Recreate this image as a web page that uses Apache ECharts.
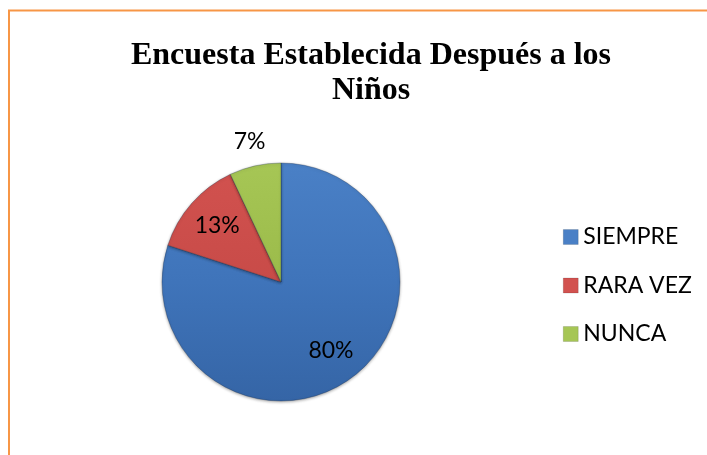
<!DOCTYPE html>
<html>
<head>
<meta charset="utf-8">
<script src="https://cdn.jsdelivr.net/npm/echarts@6/dist/echarts.min.js"></script>
<style>html,body{margin:0;padding:0;background:#fff}#c{width:707px;height:455px}</style>
</head>
<body>
<div id="c"></div>
<script>
const titleText = 'Encuesta Establecida Después a los\nNiños';
const categories = ['SIEMPRE', 'RARA VEZ', 'NUNCA'];
const values = [80, 13, 7];
const colors = ['#3F74BA', '#C84B48', '#9BBB4A'];
const lightColors = ['#4A80C6', '#D2524F', '#A6C655'];
const darkColors = ['#3565A6', '#B4403D', '#88A63E'];

const chart = echarts.init(document.getElementById('c'));
const cx = 281, cy = 282, R = 119;

const mainData = categories.map((n, i) => ({
  name: n, value: values[i],
  itemStyle: {
    color: {
      type: 'linear', x: 0, y: cy - R, x2: 0, y2: cy + R, global: true,
      colorStops: [{offset: 0, color: lightColors[i]}, {offset: 0.5, color: colors[i]}, {offset: 1, color: darkColors[i]}]
    }
  }
}));

const insideLabelData = categories.map((n, i) => ({
  name: n, value: values[i],
  label: {show: i < 2}
}));
const outsideLabelData = categories.map((n, i) => ({
  name: n, value: values[i],
  label: {show: i === 2}
}));

chart.setOption({
  animation: false,
  backgroundColor: '#fff',
  title: {
    text: titleText,
    left: 366, top: 33, textAlign: 'center',
    textStyle: {fontFamily: 'Liberation Serif', fontWeight: 'bold', fontSize: 32, lineHeight: 35, color: '#000'}
  },
  legend: {
    data: categories,
    orient: 'vertical',
    left: 558, top: 220,
    itemWidth: 15, itemHeight: 15, itemGap: 24.5,
    icon: 'rect',
    itemStyle: {borderColor: 'rgba(0,0,0,0.25)', borderWidth: 0.5},
    textStyle: {fontFamily: 'Lato', fontSize: 23, lineHeight: 24, color: '#000'}
  },
  color: colors,
  graphic: [{
    type: 'rect', shape: {x: 9, y: 10.5, width: 800, height: 600},
    style: {fill: 'none', stroke: '#F79646', lineWidth: 2}, silent: true, z: 0
  }],
  series: [
    {
      type: 'pie', center: [cx, cy], radius: [0, R], startAngle: 90, clockwise: true,
      label: {show: false}, labelLine: {show: false},
      itemStyle: {borderColor: 'rgba(20,40,70,0.5)', borderWidth: 0.6, shadowBlur: 3, shadowColor: 'rgba(0,0,0,0.35)', shadowOffsetY: 1},
      emphasis: {disabled: true},
      data: mainData, z: 2
    },
    {
      type: 'pie', center: [cx, cy], radius: [45, R], startAngle: 90, clockwise: true, silent: true,
      itemStyle: {color: 'rgba(0,0,0,0)'},
      label: {position: 'inside', formatter: '{c}%', fontFamily: 'Lato', fontSize: 23, color: '#000'},
      labelLine: {show: false}, emphasis: {disabled: true}, legendHoverLink: false,
      data: insideLabelData, z: 3
    },
    {
      type: 'pie', center: [cx, cy], radius: [130, 152], startAngle: 90, clockwise: true, silent: true,
      itemStyle: {color: 'rgba(0,0,0,0)'},
      label: {position: 'inside', formatter: '{c}%', fontFamily: 'Lato', fontSize: 23, color: '#000'},
      labelLine: {show: false}, emphasis: {disabled: true}, legendHoverLink: false,
      data: outsideLabelData, z: 3
    }
  ]
});
</script>
</body>
</html>
